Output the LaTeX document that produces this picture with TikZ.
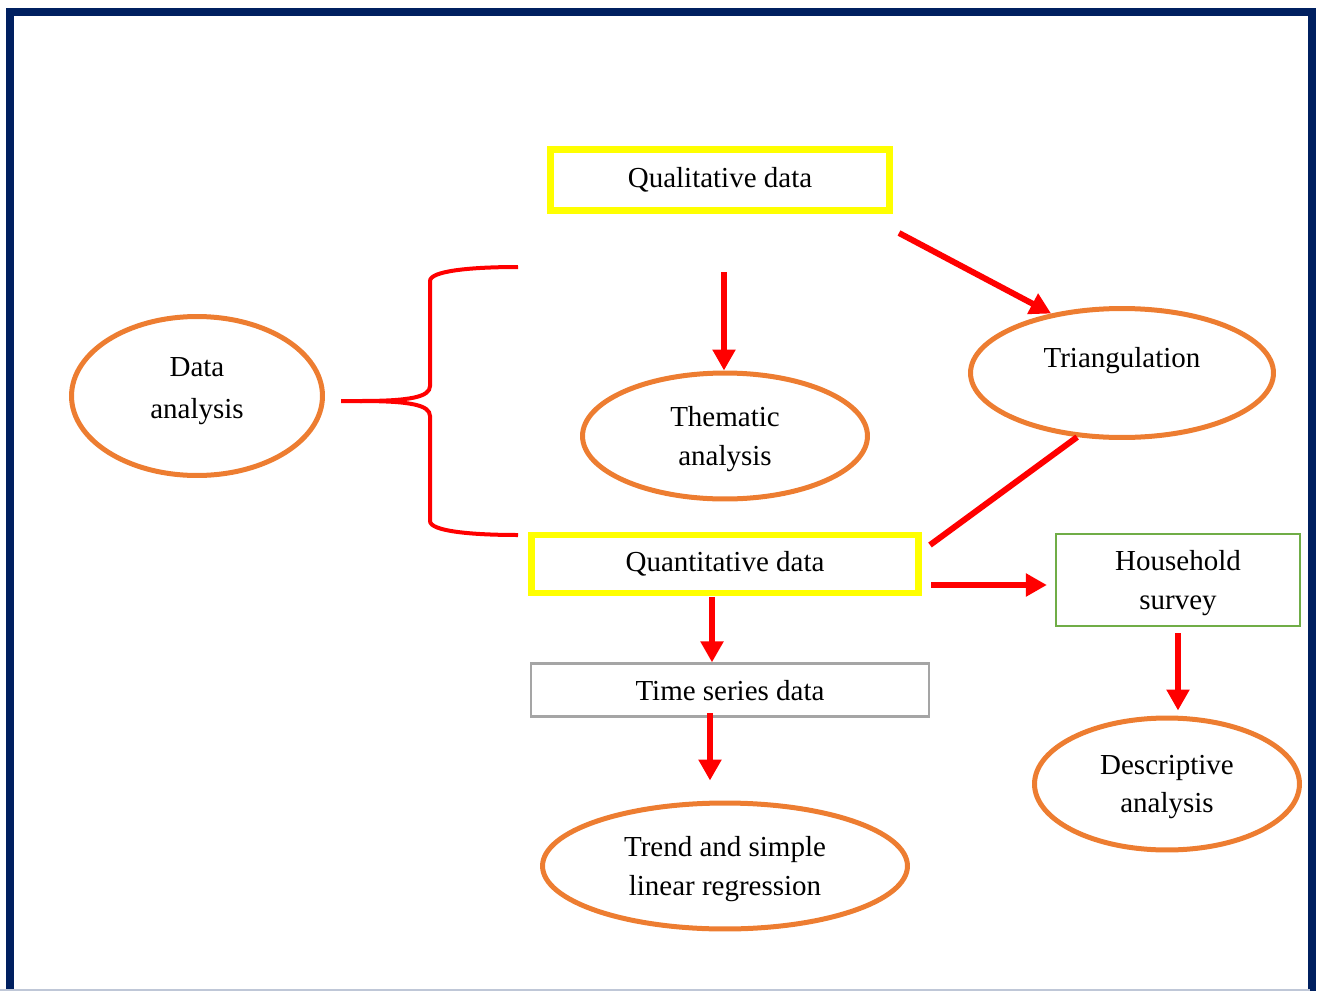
\documentclass[tikz,border=0pt]{standalone}
\usepackage{fontspec}
\setmainfont{Liberation Serif}
\usetikzlibrary{arrows.meta, positioning, shapes.geometric, calc}
\definecolor{NV}{RGB}{0,32,96}
\definecolor{OR}{RGB}{237,125,49}
\definecolor{YL}{RGB}{255,255,0}
\definecolor{GN}{RGB}{112,173,71}
\definecolor{GR}{RGB}{165,165,165}
\definecolor{RD}{RGB}{255,0,0}

\begin{document}
\begin{tikzpicture}[x=0.02cm, y=-0.02cm,
  every node/.style={font=\fontsize{16.5}{22}\selectfont, align=center},
  oval/.style={draw=OR, line width=0.1cm, ellipse, inner sep=0pt, text depth=0pt},
  ybox/.style={draw=YL, line width=0.13cm, inner sep=0pt},
  tbox/.style={draw=#1, line width=0.045cm, inner sep=0pt, text depth=0pt},
  arr/.style={-{Triangle[length=0.42cm, width=0.44cm]}, line width=0.12cm, draw=RD},
  rline/.style={line width=0.12cm, draw=RD},
  brc/.style={line width=0.08cm, draw=RD},
  frm/.style={line width=0.16cm, draw=NV}
]
\useasboundingbox (0,0) rectangle (1320,991);

% frame
\draw[frm] (10,1000) -- (10,12) -- (1312,12) -- (1312,1000);
\draw[line width=0.04cm, draw=NV!25] (0,990) -- (1310,990);

% boxes
\node[ybox, minimum width=6.78cm, minimum height=1.22cm] (qual) at (720,180) {Qualitative data};
\node[ybox, minimum width=7.74cm, minimum height=1.16cm] (quant) at (725,564) {Quantitative data};
\node[tbox=GR, minimum width=7.96cm, minimum height=1.06cm] (tsd) at (730,690) {Time series data};
\node[tbox=GN, minimum width=4.88cm, minimum height=1.84cm] (hh) at (1178,580) {Household\\survey};

% ovals
\node[oval, minimum width=5.02cm, minimum height=3.18cm,
      label={[yshift=0.1cm]center:Data\\[2pt]analysis}] (da) at (197,396) {};
\node[oval, minimum width=5.7cm, minimum height=2.52cm] (them) at (725,436) {Thematic\\analysis};
\node[oval, minimum width=6.06cm, minimum height=2.58cm,
      label={[yshift=0.25cm]center:Triangulation}] (tri) at (1122,373) {};
\node[oval, minimum width=5.3cm, minimum height=2.64cm] (desc) at (1167,784) {Descriptive\\analysis};
\node[oval, minimum width=7.3cm, minimum height=2.52cm] (trend) at (725,866) {Trend and simple\\linear regression};

% brace
\coordinate (b0) at (341,401);
\coordinate (bt) at (518,267);
\coordinate (bb) at (518,535);
\draw[brc] (b0) -- (360,401) .. controls (410,401) and (430,397) .. (430,386)
  -- (430,281) .. controls (430,271) and (470,267) .. (bt);
\draw[brc] (360,401) .. controls (410,401) and (430,405) .. (430,416)
  -- (430,521) .. controls (430,531) and (470,535) .. (bb);

% arrows
\coordinate (a1) at (724,272);
\draw[arr] (a1) -- (a1 |- them.north);
\coordinate (a2) at (899,233);
\draw[arr] (a2) -- (tri.140);
\coordinate (a3) at (930,545);
\draw[rline] (a3) -- (tri.235);
\coordinate (a4) at (931,585);
\draw[arr, shorten >=0.16cm] (a4) -- (a4 -| hh.west);
\coordinate (a5) at (712,597);
\draw[arr] (a5) -- (a5 |- tsd.north);
\coordinate (a6) at (710,713);
\draw[arr, shorten >=0.4cm] (a6) -- (a6 |- trend.north);
\draw[arr, shorten <=0.12cm, shorten >=0.1cm] (hh.south) -- (hh.south |- desc.north);
\end{tikzpicture}
\end{document}
